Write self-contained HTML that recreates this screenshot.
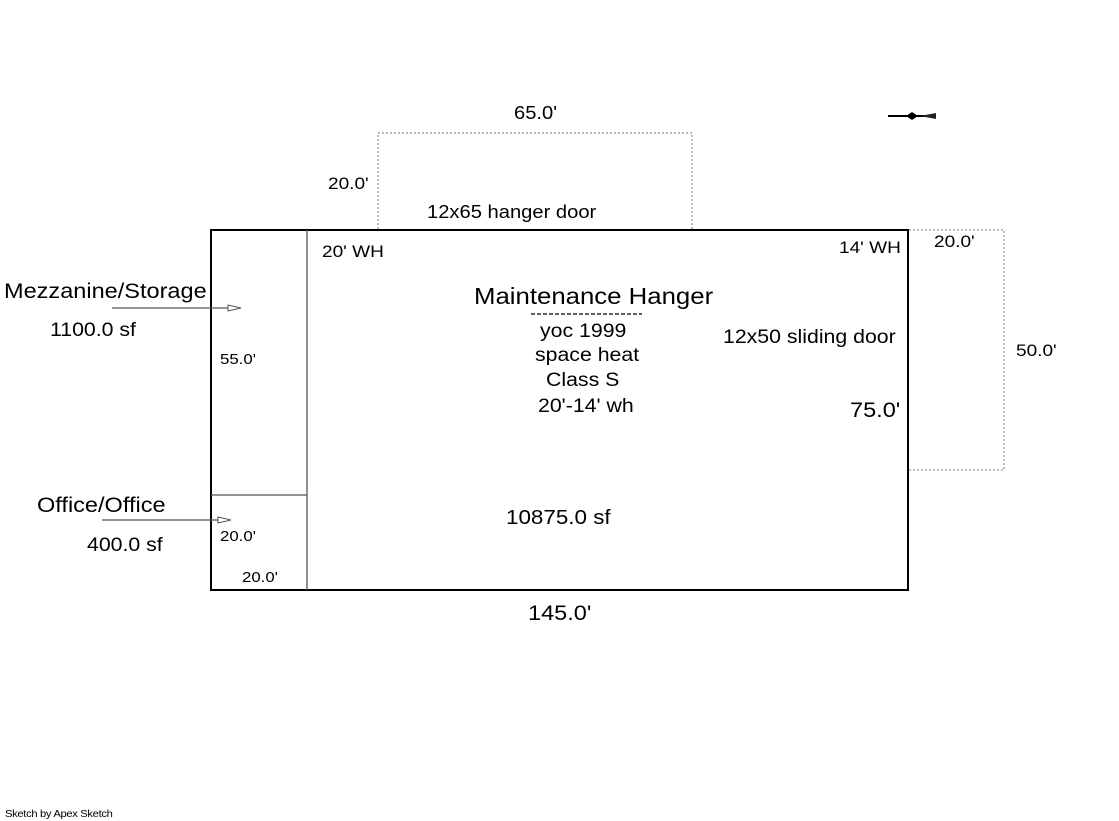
<!DOCTYPE html>
<html><head><style>
body{margin:0;width:1119px;height:821px;background:#fff;overflow:hidden;position:relative;font-family:"Liberation Sans",sans-serif;}
.t{position:absolute;white-space:nowrap;color:#000;line-height:1;transform:scaleX(1.12);transform-origin:0 0;}
</style></head><body>
<svg width="1119" height="821" style="position:absolute;left:0;top:0">
<rect x="211" y="230" width="697" height="360" fill="none" stroke="#000" stroke-width="2"/>
<line x1="307" y1="230" x2="307" y2="590" stroke="#555" stroke-width="1.3"/>
<line x1="211" y1="495" x2="307" y2="495" stroke="#555" stroke-width="1.3"/>
<polyline points="378,229 378,133 692,133 692,229" fill="none" stroke="#777" stroke-width="1" stroke-dasharray="2,2"/>
<polyline points="909,230 1004,230 1004,470 909,470" fill="none" stroke="#777" stroke-width="1" stroke-dasharray="2,2"/>
<line x1="112" y1="308" x2="228" y2="308" stroke="#555" stroke-width="1.3"/>
<polygon points="228,305 241,308 228,311" fill="#fff" stroke="#555"/>
<line x1="102" y1="520" x2="218" y2="520" stroke="#555" stroke-width="1.3"/>
<polygon points="218,517 231,520 218,523" fill="#fff" stroke="#555"/>
<line x1="531" y1="314" x2="642" y2="314" stroke="#000" stroke-width="1.2" stroke-dasharray="4,2"/>
<line x1="888" y1="116" x2="936" y2="116" stroke="#000" stroke-width="2"/>
<polygon points="906,116 912,112 918,116 912,120" fill="#000"/>
<polygon points="920,116 936,113 936,119" fill="#222"/>
</svg>
<div class="t" style="left:514px;top:104px;font-size:18px">65.0'</div>
<div class="t" style="left:328px;top:175px;font-size:17px">20.0'</div>
<div class="t" style="left:427px;top:203px;font-size:18px">12x65 hanger door</div>
<div class="t" style="left:322px;top:243px;font-size:17px">20' WH</div>
<div class="t" style="left:839px;top:239px;font-size:17px">14' WH</div>
<div class="t" style="left:934px;top:233px;font-size:17px">20.0'</div>
<div class="t" style="left:4px;top:281px;font-size:21px">Mezzanine/Storage</div>
<div class="t" style="left:50px;top:321px;font-size:19px">1100.0 sf</div>
<div class="t" style="left:220px;top:352px;font-size:15px">55.0'</div>
<div class="t" style="left:474px;top:285px;font-size:23px">Maintenance Hanger</div>
<div class="t" style="left:540px;top:322px;font-size:19px">yoc 1999</div>
<div class="t" style="left:535px;top:346px;font-size:19px">space heat</div>
<div class="t" style="left:546px;top:371px;font-size:19px">Class S</div>
<div class="t" style="left:538px;top:397px;font-size:19px">20'-14' wh</div>
<div class="t" style="left:723px;top:328px;font-size:19px">12x50 sliding door</div>
<div class="t" style="left:1016px;top:342px;font-size:17px">50.0'</div>
<div class="t" style="left:850px;top:400px;font-size:21px">75.0'</div>
<div class="t" style="left:37px;top:495px;font-size:21px">Office/Office</div>
<div class="t" style="left:87px;top:536px;font-size:19px">400.0 sf</div>
<div class="t" style="left:506px;top:508px;font-size:20px">10875.0 sf</div>
<div class="t" style="left:220px;top:529px;font-size:15px">20.0'</div>
<div class="t" style="left:242px;top:570px;font-size:15px">20.0'</div>
<div class="t" style="left:528px;top:603px;font-size:21px">145.0'</div>
<div class="t" style="left:5px;top:810px;font-size:10px;letter-spacing:-0.3px">Sketch by Apex Sketch</div>
</body></html>
